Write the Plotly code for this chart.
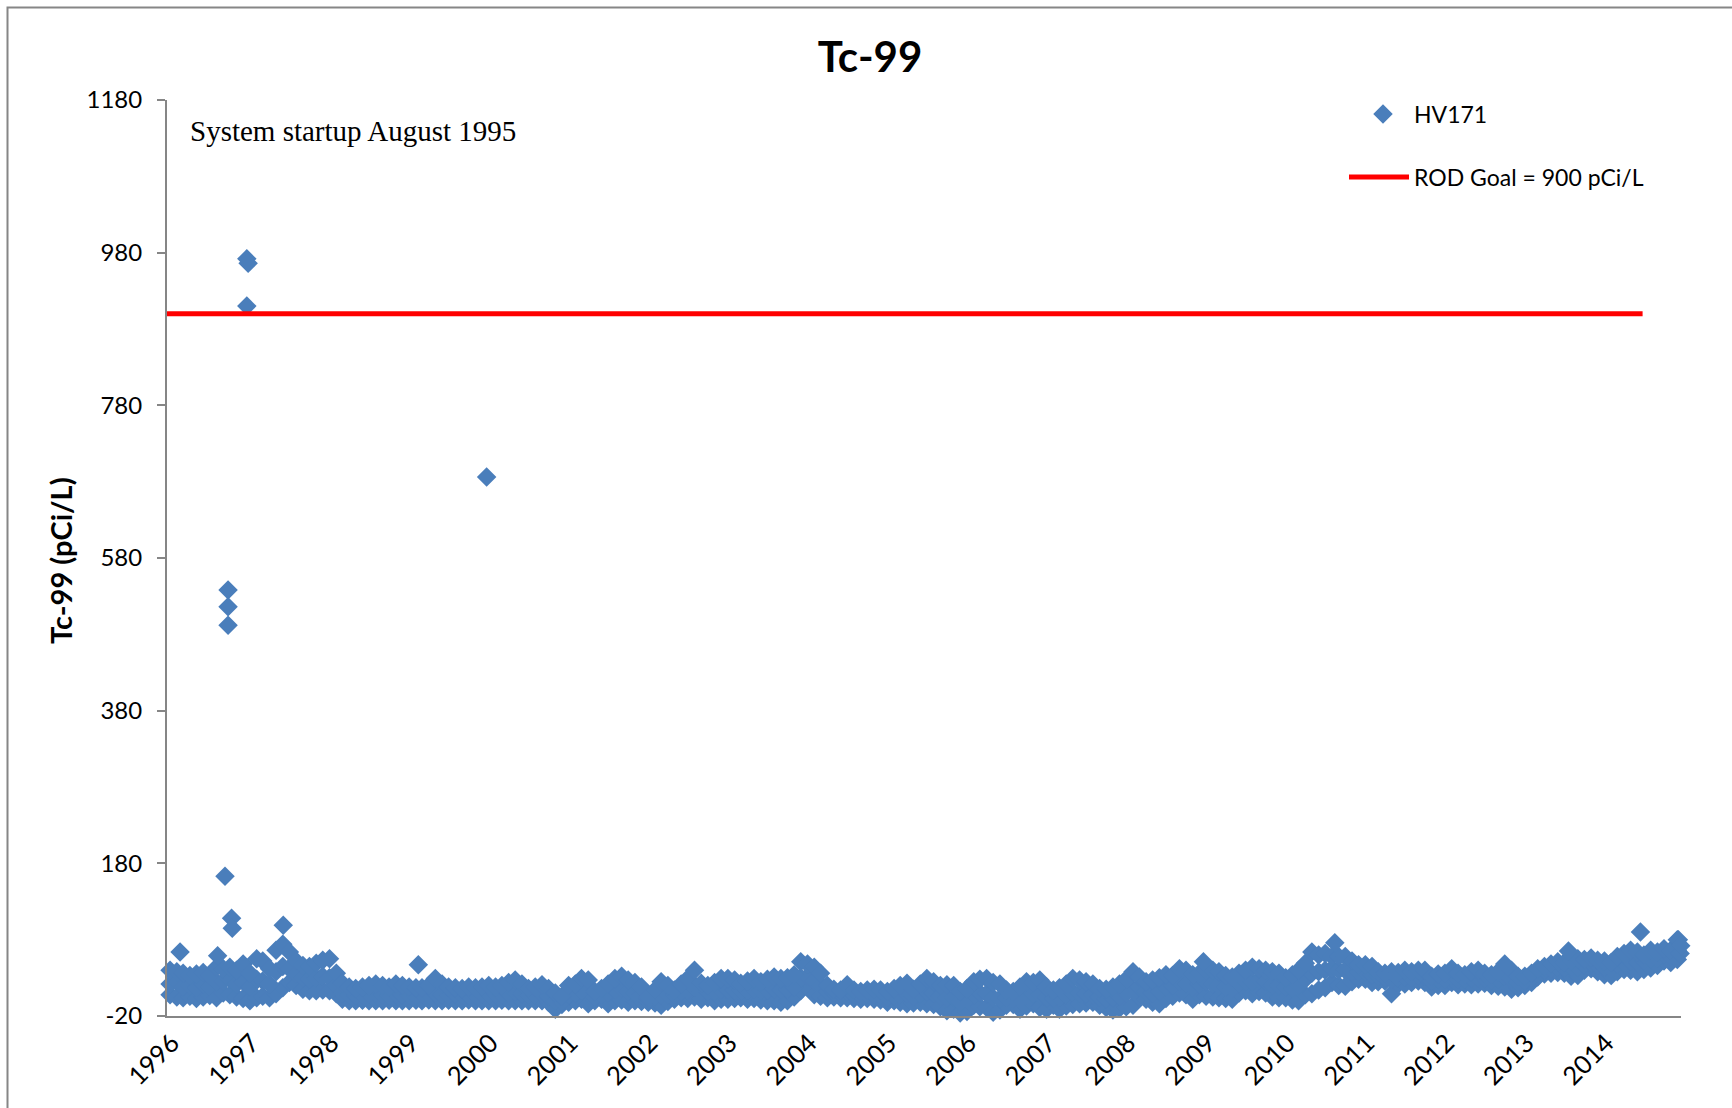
import plotly.graph_objects as go

# ---------------- data ----------------
band_years = list(range(1996, 2015))

# monthly readings of the dense HV171 band: low / middle / high value per month
band_low = [
    8, 5, 4, 6, 3, 5, 7, 4, 10, 8, 5, 3,            # 1996
    0, 4, 6, 4, 9, 17, 24, 20, 15, 13, 13, 14,      # 1997
    13, 9, 2, 0, 0, 0.5, 0, 0, 0, 0.5, 0, 0,        # 1998
    0, 0.5, 0, 1, 0, 0, 0.5, 0, 0, 1, 0, 0,         # 1999
    0, 0, 0.5, 0, 0, 0, 0, 0, 0, -2, -11, -5,       # 2000
    -2, 0, 2, -4, 0, 2, -4, 0, 1, -2, 0, -1,        # 2001
    -2, -3, -6, -1, 2, 4, 3, 5, 2, 4, 0, 2,         # 2002
    2, 3, 4, 2, 3, 1, 0, 0, -2, 0, 5, 13,           # 2003
    18, 8, 6, 4, 5, 4, 4, 3, 2, 3, 2, 1,            # 2004
    -2, 0, -2, -4, -3, -2, -4, -5, -8, -13, -11, -16,  # 2005
    -14, -6, -8, -9, -15, -12, -6, -5, -11, -7, -4, -9,  # 2006
    -11, -6, -11, -7, -5, -4, -3, -2, -6, -9, -12, -10,  # 2007
    -8, -6, 5, 2, -2, -4, 3, 6, 10, 8, 2, 8,        # 2008
    6, 5, 4, 3, 2, 10, 13, 9, 12, 10, 5, 4,         # 2009
    4, 1, 0, 8, 9, 14, 17, 24, 20, 19, 25, 28,      # 2010
    28, 24, 25, 26, 9, 22, 22, 24, 26, 24, 18, 20,  # 2011
    20, 24, 21, 22, 21, 22, 23, 20, 19, 18, 15, 17, # 2012
    20, 24, 31, 35, 36, 37, 36, 32, 33, 40, 42, 38, # 2013
    34, 33, 38, 41, 40, 38, 41, 43, 46, 52, 50, 54, # 2014
]
band_mid = [
    22, 25, 18, 20, 17, 22, 19, 24, 26, 28, 22, 25, # 1996
    18, 28, 26, 22, 38, 45, 42, 35, 30, 28, 30, 32, # 1997
    30, 20, 10, 8, 7, 8, 9, 10, 8, 7, 9, 8,         # 1998
    8, 7, 9, 8, 10, 8, 7, 9, 8, 7, 8, 9,            # 1999
    8, 9, 8, 10, 12, 9, 7, 8, 9, 6, 0, -1,          # 2000
    8, 10, 14, 12, 5, 8, 10, 14, 16, 12, 10, 8,     # 2001
    2, 5, 8, 8, 8, 12, 14, 18, 12, 12, 12, 14,      # 2002
    14, 14, 13, 14, 15, 13, 14, 16, 14, 15, 18, 30, # 2003
    32, 26, 20, 12, 10, 9, 12, 8, 7, 9, 8, 7,       # 2004
    5, 7, 8, 9, 6, 9, 12, 10, 6, 4, 4, -2,          # 2005
    2, 8, 10, 9, 4, 3, 4, 3, 2, 8, 9, 8,            # 2006
    4, 3, 5, 8, 11, 10, 9, 8, 5, 3, 4, 6,           # 2007
    10, 15, 18, 12, 10, 12, 18, 20, 25, 22, 18, 22, # 2008
    25, 22, 20, 18, 16, 22, 26, 25, 27, 25, 20, 20, # 2009
    18, 16, 20, 28, 36, 38, 40, 42, 40, 40, 38, 38, # 2010
    38, 34, 32, 30, 28, 30, 31, 30, 33, 32, 26, 28, # 2011
    28, 32, 28, 28, 29, 30, 29, 27, 28, 32, 28, 24, # 2012
    26, 30, 36, 40, 42, 44, 43, 45, 44, 47, 49, 46, # 2013
    44, 42, 48, 50, 52, 50, 52, 55, 56, 60, 58, 66, # 2014
]
band_high = [
    40, 38, 36, 33, 35, 37, 33, 44, 42, 44, 40, 48, # 1996
    36, 55, 52, 42, 66, 74, 64, 52, 46, 45, 49, 53, # 1997
    55, 36, 23, 18, 16, 18, 20, 22, 20, 18, 22, 20, # 1998
    18, 17, 17, 20, 29, 22, 18, 17, 16, 18, 17, 18, # 1999
    20, 18, 20, 24, 27, 22, 16, 18, 21, 16, 10, 6,  # 2000
    20, 22, 29, 27, 12, 16, 22, 29, 32, 27, 24, 18, # 2001
    5, 14, 25, 20, 14, 22, 29, 40, 23, 20, 24, 29,  # 2002
    29, 27, 23, 26, 29, 25, 28, 31, 29, 30, 34, 51, # 2003
    48, 44, 36, 20, 15, 14, 21, 14, 12, 14, 15, 14, # 2004
    12, 16, 20, 23, 15, 22, 29, 25, 20, 21, 20, 12, # 2005
    16, 25, 28, 29, 24, 22, 14, 12, 18, 25, 24, 27, # 2006
    18, 14, 17, 22, 29, 27, 25, 22, 16, 15, 18, 22, # 2007
    28, 38, 31, 25, 27, 30, 34, 33, 42, 40, 34, 36, # 2008
    40, 40, 38, 33, 31, 36, 40, 44, 42, 40, 38, 36, # 2009
    30, 34, 40, 49, 64, 60, 62, 58, 58, 58, 52, 47, # 2010
    47, 45, 38, 36, 38, 37, 40, 38, 40, 40, 32, 35, # 2011
    36, 42, 36, 34, 38, 40, 36, 34, 38, 48, 40, 32, # 2012
    32, 36, 42, 45, 48, 51, 50, 52, 55, 54, 56, 53, # 2013
    52, 50, 58, 62, 66, 64, 60, 66, 64, 68, 66, 80, # 2014
]

# individually visible samples (outliers)
spike_dates = ["1996-03-01", "1996-08-20", "1996-09-23", "1996-10-07", "1996-10-07",
               "1996-10-07", "1996-10-23", "1996-10-26", "1997-01-01", "1997-01-01",
               "1997-01-07", "1997-06-17", "1999-02-26", "2000-01-05", "2009-01-03",
               "2010-08-28", "2013-08-03", "2014-06-29", "2014-12-20", "2014-12-28",
               "2014-12-31"]
spike_values = [64, 59, 163, 538, 516, 492, 108, 95, 910, 972,
                966, 99, 47, 686, 51,
                76, 65, 90, 80, 62,
                72]

goal_dates = ["1996-01-01", "2014-07-09"]
goal_values = [900, 900]

year_ticks = ["1996-01-01", "1997-01-01", "1998-01-01", "1999-01-01", "2000-01-01",
              "2001-01-01", "2002-01-01", "2003-01-01", "2004-01-01", "2005-01-01",
              "2006-01-01", "2007-01-01", "2008-01-01", "2009-01-01", "2010-01-01",
              "2011-01-01", "2012-01-01", "2013-01-01", "2014-01-01"]
year_labels = ["1996", "1997", "1998", "1999", "2000", "2001", "2002", "2003", "2004",
               "2005", "2006", "2007", "2008", "2009", "2010", "2011", "2012", "2013", "2014"]
y_ticks = [-20, 180, 380, 580, 780, 980, 1180]

# ---------------- build ----------------
band_dates = [f"{y}-{m:02d}-15" for y in band_years for m in range(1, 13)]
hv_x = band_dates + band_dates + band_dates + spike_dates
hv_y = band_low + band_mid + band_high + spike_values

W, H = 1732, 1108
L, R, T, B = 167, 51, 100, 92
pw, ph = W - L - R, H - T - B

def px_x(px):
    return (px - L) / pw

def px_y(py):
    return (H - B - py) / ph

FONT = "Lato"
BLUE = "#4A7EBB"
GRAY = "#868686"

fig = go.Figure()
fig.add_trace(go.Scatter(
    x=hv_x, y=hv_y, mode="markers", name="HV171",
    marker=dict(symbol="diamond", size=15, color=BLUE, line=dict(width=0)),
    cliponaxis=False, legend="legend",
))
fig.add_trace(go.Scatter(
    x=goal_dates, y=goal_values, mode="lines", name="ROD Goal = 900 pCi/L",
    line=dict(color="#FF0000", width=5), legend="legend2",
))

fig.update_layout(
    width=W, height=H,
    margin=dict(l=L, r=R, t=T, b=B, autoexpand=False),
    paper_bgcolor="white", plot_bgcolor="white",
    font=dict(family=FONT, size=24, color="black"),
    title=dict(text="Tc-99", x=870 / W, xref="container", xanchor="center",
               y=1 - 57 / H, yref="container", yanchor="middle",
               font=dict(family=FONT, size=42, color="black", weight="bold")),
    xaxis=dict(type="date", range=["1996-01-01", "2015-01-01"],
               tickvals=year_ticks, ticktext=year_labels, tickangle=-45,
               showline=True, linecolor=GRAY, linewidth=2, ticks="",
               ticklabelshift=5,
               showgrid=False, zeroline=False,
               tickfont=dict(family=FONT, size=25.5, color="black")),
    yaxis=dict(range=[-20, 1180], tickvals=y_ticks, ticktext=[str(v) for v in y_ticks],
               showline=True, linecolor=GRAY, linewidth=2,
               ticks="outside", ticklen=8, tickwidth=1.5, tickcolor=GRAY,
               ticklabelstandoff=10,
               showgrid=False, zeroline=False,
               tickfont=dict(family=FONT, size=24, color="black")),
    showlegend=True,
    legend=dict(x=1352 / W, xref="container", xanchor="left",
                y=1 - 114 / H, yref="container", yanchor="middle",
                itemwidth=52,
                bgcolor="rgba(0,0,0,0)", borderwidth=0,
                font=dict(family=FONT, size=23, color="black")),
    legend2=dict(x=1344 / W, xref="container", xanchor="left",
                 y=1 - 177 / H, yref="container", yanchor="middle",
                 itemwidth=60,
                 bgcolor="rgba(0,0,0,0)", borderwidth=0,
                 font=dict(family=FONT, size=23, color="black")),
    annotations=[
        dict(text="Tc-99 (pCi/L)", textangle=-90, x=px_x(60), y=px_y(561),
             xref="paper", yref="paper", xanchor="center", yanchor="middle",
             showarrow=False, font=dict(family=FONT, size=29, color="black", weight="bold")),
        dict(text="System startup August 1995", x=px_x(188), y=px_y(131),
             xref="paper", yref="paper", xanchor="left", yanchor="middle",
             showarrow=False, font=dict(family="Liberation Serif", size=29, color="black")),
    ],
    shapes=[
        dict(type="rect", xref="paper", yref="paper",
             x0=px_x(7.5), x1=px_x(1745), y0=px_y(1120), y1=px_y(7.5),
             line=dict(color=GRAY, width=2), fillcolor="rgba(0,0,0,0)", layer="below"),
    ],
)

fig.write_html("out.html", config={"displayModeBar": False},
               post_script="document.body.style.margin='0';document.body.style.overflow='hidden';")
